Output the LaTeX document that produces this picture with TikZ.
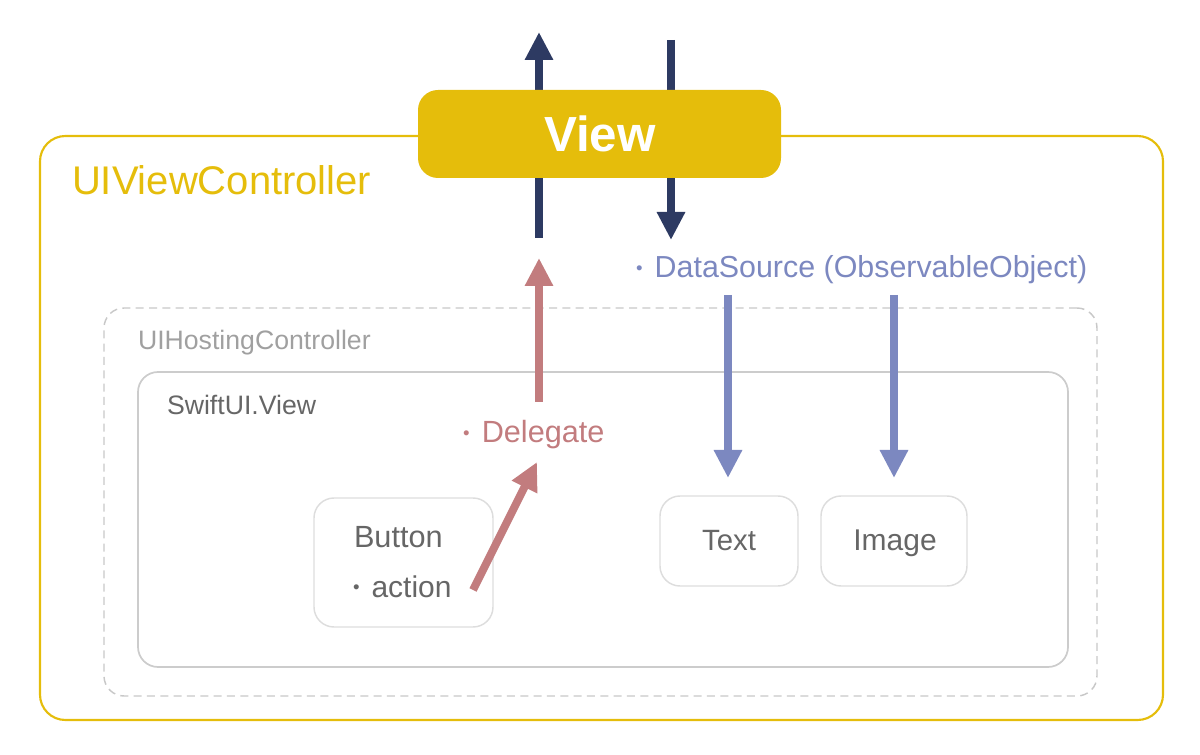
\documentclass[tikz,border=0pt]{standalone}
\usepackage{fontspec}
\setmainfont{Liberation Sans}
\usetikzlibrary{arrows.meta}
\definecolor{gold}{HTML}{E5BD0B}
\definecolor{navy}{HTML}{2D3A62}
\definecolor{rose}{HTML}{C27C7E}
\definecolor{lav}{HTML}{7C88C0}
\definecolor{dash}{HTML}{C8C8C8}
\definecolor{frame}{HTML}{CCCCCC}
\definecolor{lframe}{HTML}{DDDDDD}
\definecolor{txt}{HTML}{666666}
\definecolor{ltxt}{HTML}{A0A0A0}
\newcommand{\fs}[1]{\fontsize{#1}{#1}\selectfont}
\newcommand{\bul}{\raisebox{0.12em}{\fontsize{14}{14}\selectfont\textbullet}\hspace{0.4em}}
\tikzset{
  container/.style={draw, rounded corners=#1, inner sep=0pt, outer sep=0pt},
  arr/.style={line width=6pt, -{Triangle[length=21pt,width=20pt]}},
  lbl/.style={inner sep=0pt, outer sep=0pt}
}
\begin{document}
\begin{tikzpicture}[x=0.75pt,y=-0.75pt]
\useasboundingbox (0,0) rectangle (1200,755);
% containers
\node[container=19pt, draw=gold, line width=1.6pt, minimum width=842.25pt, minimum height=438pt] (uivc) at (601.5,428) {};
\node[container=15pt, draw=dash, line width=1.1pt, dash pattern=on 6pt off 4pt, minimum width=744.75pt, minimum height=291pt] (host) at (600.5,502) {};
\node[container=15pt, draw=frame, line width=1.3pt, minimum width=697.5pt, minimum height=221.25pt] (swift) at (603,519.5) {};
\node[container=15pt, draw=lframe, line width=1.1pt, minimum width=134.25pt, minimum height=96.75pt] (button) at (403.5,562.5) {};
\node[container=15pt, draw=lframe, line width=1.1pt, minimum width=103.5pt, minimum height=67.5pt] (textbox) at (729,541) {};
\node[container=15pt, draw=lframe, line width=1.1pt, minimum width=109.5pt, minimum height=67.5pt] (imagebox) at (894,541) {};
% labels
\node[lbl, anchor=base west, text=gold] (uivclbl) at (72,195) {\fs{30}UIViewController};
\node[lbl, anchor=base west, text=ltxt] (hostlbl) at (138,350) {\fs{20}UIHostingController};
\node[lbl, anchor=base west, text=txt] (swiftlbl) at (167,415) {\fs{20}SwiftUI.View};
\node[lbl, anchor=base west, text=txt] (buttonlbl) at (354,547) {\fs{23}Button};
\node[lbl, anchor=base west, text=txt] (actionlbl) at (353,597) {\fs{22.5}\bul action};
\node[lbl, anchor=base, text=txt] (textlbl) at (729,550) {\fs{22}Text};
\node[lbl, anchor=base, text=txt] (imagelbl) at (895,550) {\fs{22.5}Image};
\node[lbl, anchor=base west, text=rose] (delegate) at (463,443) {\fs{23}\bul Delegate};
\node[lbl, anchor=base west, text=lav] (datasource) at (636,278) {\fs{22.8}\bul DataSource (ObservableObject)};
% arrow end points
\coordinate (upS) at (539,238);
\coordinate (upE) at (539,32);
\coordinate (dnS) at (671,40);
\coordinate (dnE) at (671,240);
\coordinate (dgS) at (539,402);
\coordinate (dgE) at (539,258);
\coordinate (acS) at (473,590);
\coordinate (acE) at (537,462);
\coordinate (t1S) at (728,295);
\coordinate (t1E) at (728,478);
\coordinate (t2S) at (894,295);
\coordinate (t2E) at (894,478);
% arrows
\draw[arr, navy] (upS) -- (upE);
\draw[arr, navy] (dnS) -- (dnE);
\draw[arr, rose] (dgS) -- (dgE);
\draw[arr, rose] (acS) -- (acE);
\draw[arr, lav] (t1S) -- (t1E);
\draw[arr, lav] (t2S) -- (t2E);
% View box on top
\node[container=15pt, fill=gold, draw=none, minimum width=272.25pt, minimum height=66pt] (view) at (599.5,134) {};
\node[lbl, anchor=base, text=white] (viewlbl) at (600,152) {\fs{37}\bfseries View};
\end{tikzpicture}
\end{document}
